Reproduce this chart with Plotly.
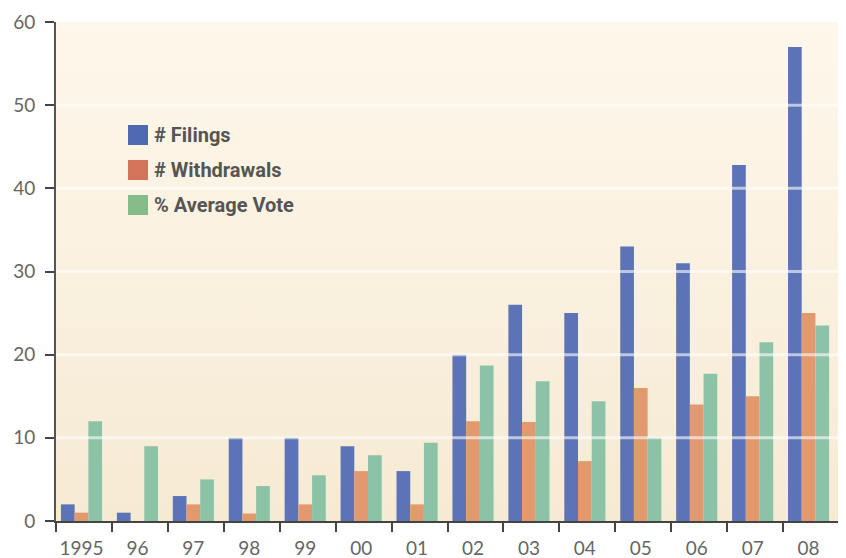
import base64
import plotly.graph_objects as go

years = ["1995", "96", "97", "98", "99", "00", "01", "02", "03", "04", "05", "06", "07", "08"]
filings = [2, 1, 3, 10, 10, 9, 6, 20, 26, 25, 33, 31, 42.8, 57]
withdrawals = [1, 0, 2, 0.9, 2, 6, 2, 12, 11.9, 7.2, 16, 14, 15, 25]
avg_vote = [12, 9, 5, 4.2, 5.5, 7.9, 9.4, 18.7, 16.8, 14.4, 10, 17.7, 21.5, 23.5]

series_names = ["# Filings", "# Withdrawals", "% Average Vote"]
bar_colors = ["#5C74B7", "#E3996E", "#8CC2A6"]
legend_colors = ["#4F69B0", "#D2735A", "#86BB8A"]
y_ticks = [0, 10, 20, 30, 40, 50, 60]

xpos = list(range(len(years)))
shift = 0.456  # category boundary offset

fig = go.Figure()
for name, vals, col in zip(series_names, [filings, withdrawals, avg_vote], bar_colors):
    fig.add_trace(go.Bar(x=xpos, y=vals, name=name, marker=dict(color=col, line=dict(width=0)),
                         showlegend=False))

# gradient background image
svg = ('<svg xmlns="http://www.w3.org/2000/svg" width="10" height="100" preserveAspectRatio="none">'
       '<defs><linearGradient id="g" x1="0" y1="0" x2="0" y2="1">'
       '<stop offset="0" stop-color="#FEF7EB"/><stop offset="1" stop-color="#F6EAD3"/>'
       '</linearGradient></defs><rect width="10" height="100" fill="url(#g)"/></svg>')
src = "data:image/svg+xml;base64," + base64.b64encode(svg.encode()).decode()
fig.add_layout_image(dict(source=src, xref="paper", yref="paper", x=0, y=1, sizex=1, sizey=1,
                          sizing="stretch", layer="below", xanchor="left", yanchor="top"))

# gridlines above bars
for v in y_ticks[1:-1]:
    fig.add_shape(type="line", xref="paper", yref="y", x0=0, x1=1, y0=v, y1=v,
                  line=dict(color="rgba(255,255,255,0.6)", width=3), layer="above")

# page body has an 8px default margin; compensate so the plot lands where the reference has it
OFF = 8
W, H = 846 - OFF, 558 - OFF
ml, mr, mt, mb = 56 - OFF, 7, 22 - OFF, 37
pw, ph = W - ml - mr, H - mt - mb

# custom legend (positions in page pixels)
leg_x0, leg_y0, leg_dy = 128, 125, 35
for i, (name, col) in enumerate(zip(series_names, legend_colors)):
    top = leg_y0 + i * leg_dy
    fig.add_shape(type="rect", xref="paper", yref="paper",
                  x0=(leg_x0 - 56) / pw, x1=(leg_x0 + 20 - 56) / pw,
                  y0=1 - (top + 20 - 22) / ph, y1=1 - (top - 22) / ph,
                  fillcolor=col, line=dict(width=0), layer="above")
    fig.add_annotation(xref="paper", yref="paper", x=(leg_x0 + 24 - 56) / pw,
                       y=1 - (top + 10 - 22) / ph, text="<b>" + name + "</b>", showarrow=False,
                       xanchor="left", yanchor="middle",
                       font=dict(family="Roboto, sans-serif", size=20, color="#555555"))

fig.update_layout(
    width=W, height=H,
    margin=dict(l=ml, r=mr, t=mt, b=mb, autoexpand=False),
    barmode="group", bargap=0.265, bargroupgap=0,
    paper_bgcolor="white", plot_bgcolor="rgba(0,0,0,0)",
    showlegend=False,
    font=dict(family="Lato, Open Sans, sans-serif", color="#666666", size=19),
)
fig.update_xaxes(
    range=[-shift, len(years) - shift], tickvals=xpos, ticktext=years, ticks="",
    showgrid=False, zeroline=False, showline=True, linecolor="#444444", linewidth=2,
    tickfont=dict(size=19, color="#666666"), automargin=False, ticklabelstandoff=9,
    minor=dict(tickvals=[k - shift for k in range(len(years) + 1)], ticks="outside",
               ticklen=9, tickwidth=2, tickcolor="#444444", showgrid=False),
    fixedrange=True,
)
fig.update_yaxes(
    range=[0, 60], tickvals=y_ticks, ticks="outside", ticklen=9, tickwidth=1.5,
    tickcolor="#444444", showgrid=False, zeroline=False, showline=True,
    linecolor="#555555", linewidth=2, tickfont=dict(size=19, color="#666666"),
    ticklabelstandoff=6, automargin=False, fixedrange=True,
)

fig.write_html("out.html")
